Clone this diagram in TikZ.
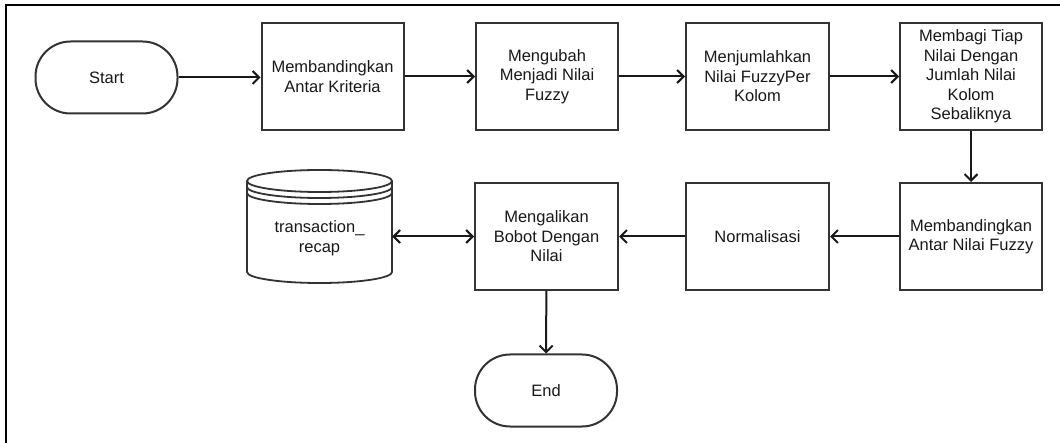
\documentclass[tikz,border=0pt]{standalone}
\usepackage{fontspec}
\setmainfont{Liberation Sans}
\usetikzlibrary{arrows.meta}
\begin{document}
\begin{tikzpicture}[x=1pt,y=1pt,
  every node/.style={font=\fontsize{16.5}{19.5}\selectfont, text=black!90},
  stepbox/.style={draw=black!80, line width=2pt, fill=white, align=center,
    inner sep=0pt, minimum width=142pt, minimum height=107pt},
  term/.style={draw=black!80, line width=2pt, fill=white, align=center,
    inner sep=0pt, minimum width=142pt, minimum height=72pt, rounded corners=35pt},
  tip/.tip={Straight Barb[length=6.5pt,width=13pt,line width=2pt]},
  flow/.style={draw=black!90, line width=2pt, -tip},
  both/.style={draw=black!90, line width=2pt, tip-tip}
]
\useasboundingbox (0,0) rectangle (1060,-443);
% outer frame
\draw[line width=2.4pt, black] (6,-443) -- (6,-5) -- (1060,-5);

% top row
\node[term] (start) at (106.5,-77.5) {Start};
\node[stepbox] (b1) at (332.5,-76.5) {Membandingkan\\Antar Kriteria};
\node[stepbox] (b2) at (547,-76.5) {Mengubah\\Menjadi Nilai\\Fuzzy};
\node[stepbox, minimum width=143pt] (b3) at (757.5,-76.5) {Menjumlahkan\\Nilai FuzzyPer\\Kolom};
\node[stepbox] (b4) at (971,-76.5) {Membagi Tiap\\Nilai Dengan\\Jumlah Nilai\\Kolom\\Sebaliknya};

% second row
\node[stepbox] (b5) at (971,-236.5) {Membandingkan\\Antar Nilai Fuzzy};
\node[stepbox, minimum width=143pt] (norm) at (757.5,-236.5) {Normalisasi};
\node[stepbox, minimum width=143pt] (mult) at (546.5,-236.5) {Mengalikan\\Bobot Dengan\\Nilai};
\node[term] (end) at (546,-390.5) {End};

% database cylinder
\node[minimum width=145pt, minimum height=113pt, inner sep=0pt] (db) at (319.5,-226.5) {};
\begin{scope}[draw=black!80, line width=1.8pt]
  \filldraw[fill=white] (247,-181) -- (247,-272)
    arc[start angle=180, end angle=360, x radius=72.5pt, y radius=11pt]
    -- (392,-181)
    arc[start angle=0, end angle=180, x radius=72.5pt, y radius=11pt] -- cycle;
  \draw (247,-181) arc[start angle=180, end angle=360, x radius=72.5pt, y radius=11pt];
  \draw (247,-187) arc[start angle=180, end angle=360, x radius=72.5pt, y radius=11pt];
  \draw (247,-193) arc[start angle=180, end angle=360, x radius=72.5pt, y radius=11pt];
\end{scope}
\node[align=center, inner sep=0pt] (dbtext) at (319.5,-238) {transaction\_\\recap};

% connectors
\draw[flow] (start.east) -- (start.east -| b1.west);
\draw[flow] (b1) -- (b2);
\draw[flow] (b2) -- (b3);
\draw[flow] (b3) -- (b4);
\draw[flow] (b4) -- (b5);
\draw[flow] (b5) -- (norm);
\draw[flow] (norm) -- (mult);
\draw[both] (db.east |- mult.west) -- (mult.west);
\draw[flow] (mult) -- (end);
\end{tikzpicture}
\end{document}
